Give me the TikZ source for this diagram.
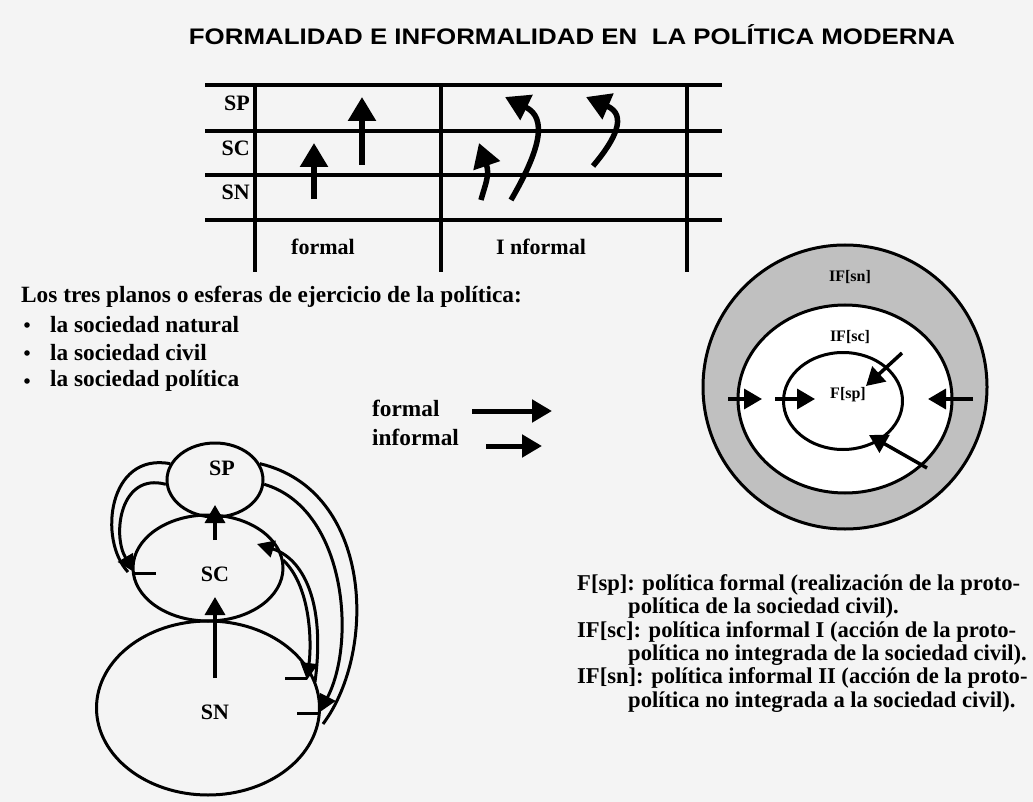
\documentclass[tikz,border=0pt]{standalone}
\usepackage{fontspec}
\setmainfont{Liberation Serif}
\newfontfamily\titlefont{Liberation Sans}[FakeStretch=1.15]
\usetikzlibrary{arrows.meta,shapes.geometric,calc}
\definecolor{bgc}{RGB}{244,244,244}
\definecolor{ringc}{RGB}{192,192,192}
\tikzset{
  tline/.style={line width=4pt},
  bigarrow/.style={line width=5.5pt,-{Triangle[length=24pt,width=27pt]}},
  legarrow/.style={line width=5pt,-{Triangle[length=20pt,width=22pt]}},
  midarrow/.style={line width=3.5pt,-{Triangle[length=18pt,width=20pt]}},
  curvline/.style={line width=3pt},
  curvarrow/.style={line width=3pt,-{Triangle[length=17pt,width=17pt]}},
  tick/.style={line width=3pt},
  sphere/.style={ellipse,draw,line width=3pt,inner sep=0pt},
  lab/.style={font=\bfseries\fontsize{22}{24}\selectfont,inner sep=0pt},
  clab/.style={font=\bfseries\fontsize{16}{18}\selectfont,inner sep=0pt},
  txt/.style={font=\bfseries\fontsize{23.3}{26}\selectfont,inner sep=0pt,anchor=west},
  etxt/.style={font=\bfseries\fontsize{22.6}{24}\selectfont,inner sep=0pt,anchor=west},
}
\begin{document}
\begin{tikzpicture}[x=1pt,y=-1pt]
\fill[bgc] (0,0) rectangle (1033,802);
\useasboundingbox (0,0) rectangle (1033,802);

% title
\node[inner sep=0pt,anchor=base,font=\titlefont\bfseries\fontsize{22.5}{26}\selectfont] (title) at (572,45) {FORMALIDAD E INFORMALIDAD EN\ \ LA POLÍTICA MODERNA};

% table
\foreach \yy in {85,131,175,220} \draw[tline] (205,\yy) -- (722,\yy);
\foreach \xx in {255,441,687} \draw[tline] (\xx,85) -- (\xx,272);
\node[lab,anchor=east] (tSP) at (250,103) {SP};
\node[lab,anchor=east] (tSC) at (250,148) {SC};
\node[lab,anchor=east] (tSN) at (250,192) {SN};
\node[lab] (tformal) at (323,247) {formal};
\node[lab] (tinformal) at (541,247) {I nformal};

\coordinate (f1s) at (314,199); \coordinate (f1e) at (314,143);
\coordinate (f2s) at (362,165); \coordinate (f2e) at (362,97);
\draw[bigarrow] (f1s) -- (f1e);
\draw[bigarrow] (f2s) -- (f2e);
\coordinate (i1s) at (481,200); \coordinate (i1e) at (479,143);
\coordinate (i2s) at (511,200); \coordinate (i2e) at (505,97);
\coordinate (i3s) at (593,166); \coordinate (i3e) at (586,97);
\draw[bigarrow] (i1s) .. controls (485,185) and (490,175) .. (i1e);
\draw[bigarrow] (i2s) .. controls (540,150) and (548,118) .. (i2e);
\draw[bigarrow] (i3s) .. controls (615,140) and (628,115) .. (i3e);

% list
\node[txt] (head) at (21,297) {Los tres planos o esferas de ejercicio de la política:};
\foreach \yy/\tt/\nn in {325/la sociedad natural/b1,353/la sociedad civil/b2,381/la sociedad política/b3}{
  \fill (27,\yy) circle (2.8pt);
  \node[txt] (\nn) at (50,\yy) {\tt};
}

% legend
\node[txt] (lformal) at (372,408) {formal};
\node[txt] (linformal) at (372,437) {informal};
\coordinate (la1) at (472,411); \coordinate (la2) at (552,411);
\coordinate (lb1) at (486,446); \coordinate (lb2) at (542,446);
\draw[legarrow] (la1) -- (la2);
\draw[legarrow] (lb1) -- (lb2);

% spheres diagram
\node[sphere,minimum width=223pt,minimum height=174pt] (SN) at (208,708) {};
\node[sphere,minimum width=150pt,minimum height=106pt] (SC) at (208,568) {};
\node[sphere,minimum width=96pt,minimum height=74pt] (SP) at (215,480) {};
\node[lab] (lSP) at ($(SP.center)+(7,-12)$) {SP};
\node[lab] (lSC) at ($(SC.center)+(7,6)$) {SC};
\node[lab] (lSN) at ($(SN.center)+(7,4)$) {SN};
\coordinate (a1s) at (215,540); \coordinate (a1e) at (215,505);
\coordinate (a2s) at (215,678); \coordinate (a2e) at (215,597);
\draw[midarrow] (a1s) -- (a1e);
\draw[midarrow] (a2s) -- (a2e);
% left pair SP -> SC
\draw[curvline] (SP.160) .. controls (108,452) and (98,540) .. (128,572);
\draw[curvarrow] (SP.185) .. controls (120,472) and (112,535) .. (134,572);
\draw[tick] (133,573) -- (156,573);
% SC <-> SN pair
\draw[curvarrow] (315,682) .. controls (326,600) and (302,558) .. (257,544);
\draw[curvarrow] (283,560) .. controls (310,585) and (312,640) .. (307,680);
\draw[tick] (285,678) -- (307,678);
% SP -> SN outer pair
\draw[curvline] (SP.20) .. controls (372,490) and (378,650) .. (323,724);
\draw[curvarrow] (SP.-5) .. controls (345,508) and (357,640) .. (320,712);
\draw[tick] (297,713) -- (320,713);

% circles
\node[circle,draw,line width=3pt,fill=ringc,minimum size=284pt,inner sep=0pt] (OUT) at (845,387) {};
\node[ellipse,draw,line width=3pt,fill=white,minimum width=214pt,minimum height=188pt,inner sep=0pt] (MID) at (845,399) {};
\node[ellipse,draw,line width=3pt,minimum width=119pt,minimum height=97pt,inner sep=0pt] (INN) at (843,401) {};
\node[clab] (lsn) at (850,277) {IF[sn]};
\node[clab] (lsc) at (850,337) {IF[sc]};
\node[clab] (lsp) at (848,395) {F[sp]};
\coordinate (c1a) at (728,399); \coordinate (c1b) at (762,399);
\coordinate (c2a) at (775,399); \coordinate (c2b) at (815,399);
\coordinate (c3a) at (973,399); \coordinate (c3b) at (928,399);
\coordinate (c4a) at (902,353); \coordinate (c4b) at (866,386);
\coordinate (c5a) at (927,468); \coordinate (c5b) at (869,435);
\foreach \s/\e in {c1a/c1b,c2a/c2b,c3a/c3b,c4a/c4b,c5a/c5b}
  \draw[midarrow] (\s) -- (\e);

% explanation
\node[etxt] (e1) at (577,585) {F[sp]: política formal (realización de la proto-};
\node[etxt] (e2) at (628,608) {política de la sociedad civil).};
\node[etxt] (e3) at (577,632) {IF[sc]: política informal I (acción de la proto-};
\node[etxt] (e4) at (628,655) {política no integrada de la sociedad civil).};
\node[etxt] (e5) at (577,678) {IF[sn]: política informal II (acción de la proto-};
\node[etxt] (e6) at (628,702) {política no integrada a la sociedad civil).};
\end{tikzpicture}
\end{document}
